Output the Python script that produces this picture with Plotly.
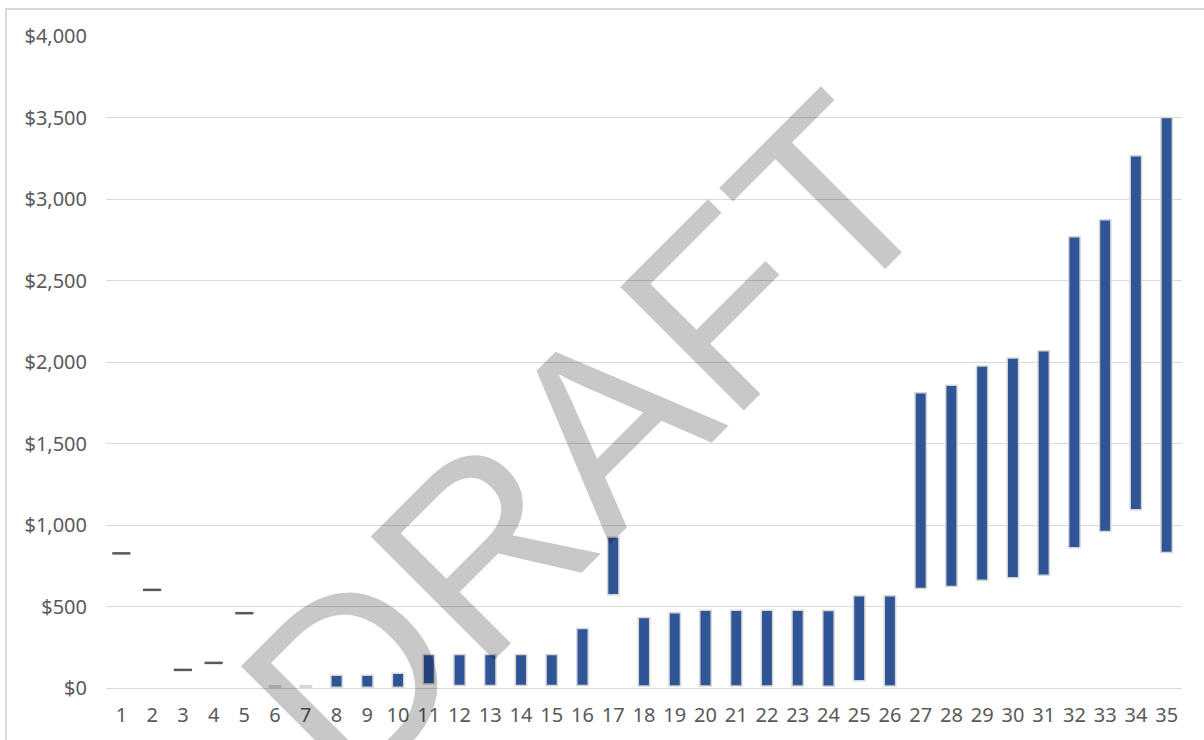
import plotly.graph_objects as go

categories = [str(i) for i in range(1, 36)]
low_values = [826, 602, 111, 154, 459, 5, 5, 5, 5, 5,
              25, 15, 15, 15, 15, 15, 572, 12, 12, 12,
              12, 12, 12, 10, 44, 13, 610, 623, 661, 677,
              692, 860, 960, 1094, 831]
high_values = [826, 602, 111, 154, 459, 14, 14, 78, 78, 90,
               206, 206, 206, 206, 206, 365, 926, 432, 462, 477,
               477, 477, 477, 476, 566, 566, 1812, 1858, 1976, 2025,
               2069, 2769, 2872, 3266, 3500]
y_tick_values = [0, 500, 1000, 1500, 2000, 2500, 3000, 3500, 4000]
y_tick_labels = ["$0", "$500", "$1,000", "$1,500", "$2,000", "$2,500", "$3,000", "$3,500", "$4,000"]
watermark = "DRAFT"

W, H = 1204, 740
L, R, T, B = 106, 22, 36, 49.5
pw, ph = W - L - R, H - T - B

def px_x(p):
    return (p - L) / pw

def px_y(p):
    return (H - B - p) / ph

xs = list(range(1, len(categories) + 1))
bar_x = [x for x, lo, hi in zip(xs, low_values, high_values) if hi != lo]
bar_base = [lo for lo, hi in zip(low_values, high_values) if hi != lo]
bar_h = [hi - lo for lo, hi in zip(low_values, high_values) if hi != lo]
dash_x = [x for x, lo, hi in zip(xs, low_values, high_values) if hi == lo]
dash_y = [hi for lo, hi in zip(low_values, high_values) if hi == lo]

fig = go.Figure()
fig.add_trace(go.Bar(
    x=bar_x, y=bar_h, base=bar_base, width=0.37,
    marker=dict(color="#2F5597", line=dict(color="#d6d6d6", width=1.5)),
    showlegend=False,
))
fig.add_trace(go.Scatter(
    x=dash_x, y=dash_y, mode="markers",
    marker=dict(symbol="line-ew", size=13, line=dict(color="#595959", width=2.5)),
    showlegend=False,
))

font_family = "Noto Sans"
fig.update_layout(
    width=W, height=H,
    margin=dict(l=L, r=R, t=T, b=B, pad=0),
    paper_bgcolor="white", plot_bgcolor="white",
    font=dict(family=font_family, size=20, color="#595959"),
    xaxis=dict(
        range=[0.5, len(categories) + 0.5],
        tickvals=xs, ticktext=categories,
        showgrid=False, zeroline=False, showline=False, ticks="",
        ticklabelstandoff=13,
        tickfont=dict(family=font_family, size=20, color="#595959"),
    ),
    yaxis=dict(
        range=[0, 4000],
        tickvals=y_tick_values, ticktext=y_tick_labels,
        showgrid=True, gridcolor="#d9d9d9", gridwidth=1.3,
        zeroline=True, zerolinecolor="#d9d9d9", zerolinewidth=1.3,
        showline=False, ticks="",
        ticklabelstandoff=18,
        tickfont=dict(family=font_family, size=20, color="#595959"),
    ),
    shapes=[dict(
        type="rect", xref="paper", yref="paper",
        x0=px_x(6), x1=px_x(1215), y0=px_y(9), y1=px_y(760),
        line=dict(color="#d9d9d9", width=2), fillcolor="rgba(0,0,0,0)",
        layer="below",
    )],
    annotations=[dict(
        text=watermark, xref="paper", yref="paper",
        x=px_x(587), y=px_y(445), xanchor="center", yanchor="middle",
        showarrow=False, textangle=-45,
        font=dict(family="Liberation Sans", size=254, color="rgba(0,0,0,0.215)"),
    )],
)

fig.write_html("out.html")
